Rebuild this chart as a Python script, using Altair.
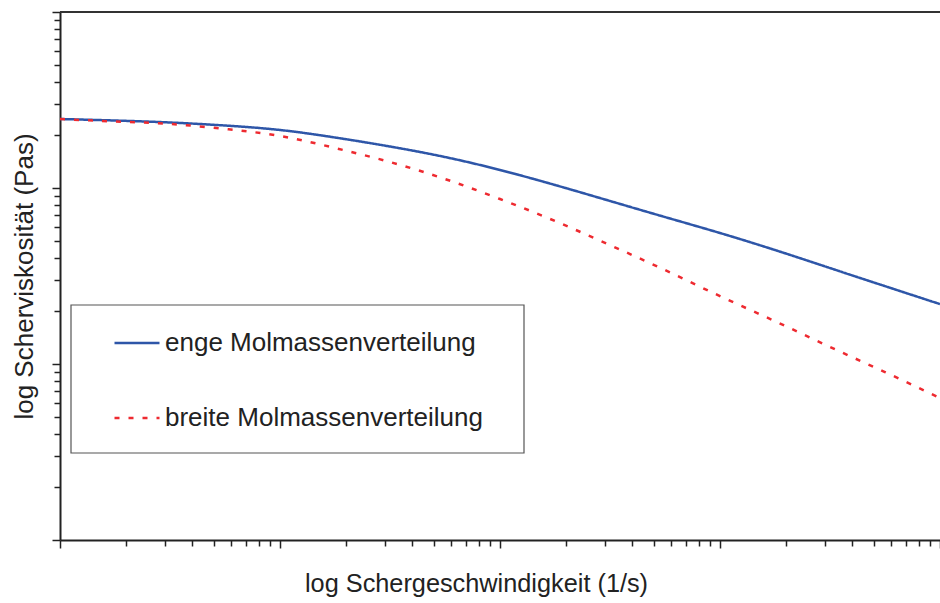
import altair as alt
import pandas as pd

# Shear rate (1/s) sample points, log-spaced readings from the picture
shear_rate = [0.01, 0.0178, 0.0316, 0.0562, 0.1, 0.178, 0.316, 0.562, 1.0,
              1.78, 3.16, 5.62, 10.0, 17.8, 31.6, 56.2, 100.0]
# Viscosity (Pas)
visc_eng = [2466, 2418, 2356, 2265, 2136, 1936, 1721, 1500, 1266,
            1040, 844, 684, 555, 444, 351, 277, 219]
visc_breit = [2466, 2387, 2311, 2164, 1975, 1687, 1405, 1125, 866,
              649, 474, 342, 243, 175, 125, 90, 64]
series_names = ["enge Molmassenverteilung", "breite Molmassenverteilung"]
series_colors = ["#2e56a8", "#ee2a30"]

x_decades = [0.01, 0.1, 1, 10, 100]
y_decades = [10, 100, 1000, 10000]
multipliers = [1, 2, 3, 4, 5, 6, 7, 8, 9]

x_ticks = [round(d * m, 6) for d in x_decades for m in multipliers if d * m <= 100]
y_ticks = [round(d * m, 6) for d in y_decades for m in multipliers if d * m <= 10000]

rows = []
for x, v in zip(shear_rate, visc_eng):
    rows.append({"rate": x, "visc": v, "series": series_names[0]})
for x, v in zip(shear_rate, visc_breit):
    rows.append({"rate": x, "visc": v, "series": series_names[1]})
df = pd.DataFrame(rows)

FONT = "Liberation Sans"
major_test = "abs(log(datum.value)/LN10 - round(log(datum.value)/LN10)) < 0.01"
tick_size = {"condition": {"test": major_test, "value": 8}, "value": 6}

legend = alt.Legend(
    title=None, orient="none", legendX=11, legendY=289,
    padding=18, symbolOffset=24, labelOffset=4,
    symbolType="stroke", symbolSize=2025, symbolStrokeWidth=2.5,
    labelFont=FONT, labelFontSize=26, labelColor="#222",
    rowPadding=38, labelLimit=800,
)

# legend frame (decoration)
frame = alt.Chart(pd.DataFrame({"a": [0]})).mark_rect(
    fill="white", stroke="#555", strokeWidth=1.2
).encode(x=alt.value(11), x2=alt.value(464), y=alt.value(293), y2=alt.value(441))

lines = alt.Chart(df).mark_line(strokeWidth=2.5, interpolate="natural").encode(
    x=alt.X("rate:Q",
            scale=alt.Scale(type="log", domain=[0.01, 100], nice=False),
            axis=alt.Axis(values=x_ticks, labels=False, grid=False,
                          domainColor="#222", domainWidth=2,
                          tickColor="#222", tickWidth=1.5, tickSize=tick_size,
                          title="log Schergeschwindigkeit (1/s)",
                          titleFont=FONT, titleFontSize=25.3, titleFontWeight="normal",
                          titleColor="#222", titleX=416, titleY=51,
                          titleBaseline="alphabetic")),
    y=alt.Y("visc:Q",
            scale=alt.Scale(type="log", domain=[10, 10000], nice=False),
            axis=alt.Axis(values=y_ticks, labels=False, grid=False,
                          domainColor="#222", domainWidth=2,
                          tickColor="#222", tickWidth=1.5, tickSize=tick_size,
                          title="log Scherviskosität (Pas)",
                          titleFont=FONT, titleFontSize=26, titleFontWeight="normal",
                          titleColor="#222", titleX=-28, titleY=264,
                          titleBaseline="alphabetic")),
    color=alt.Color("series:N", sort=series_names,
                    scale=alt.Scale(domain=series_names, range=series_colors),
                    legend=legend),
    strokeDash=alt.StrokeDash("series:N", sort=series_names,
                              scale=alt.Scale(domain=series_names, range=[[1, 0], [5, 9]]),
                              legend=legend),
)

top_border = alt.Chart(pd.DataFrame({"a": [0]})).mark_rule(color="#333", strokeWidth=2).encode(
    x=alt.value(0), x2=alt.value(880), y=alt.value(0)
)

chart = alt.layer(frame, lines, top_border).properties(
    width=880, height=528,
    autosize=alt.AutoSizeParams(type="none"),
    padding={"left": 60, "top": 12, "right": 0, "bottom": 63},
    background="white",
).configure_view(stroke=None)

chart.save("out.html", embed_options={"renderer": "svg", "actions": False})
